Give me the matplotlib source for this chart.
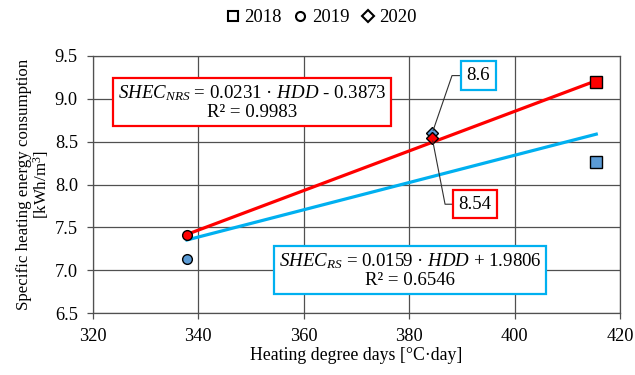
import matplotlib
matplotlib.use("Agg")
import matplotlib.pyplot as plt
from matplotlib.lines import Line2D
import numpy as np

plt.rcParams['font.family'] = ['Liberation Serif', 'DejaVu Serif']
plt.rcParams['mathtext.fontset'] = 'custom'
plt.rcParams['mathtext.rm'] = 'Liberation Serif'
plt.rcParams['mathtext.it'] = 'Liberation Serif:italic'

years = ['2018', '2019', '2020']
markers = ['s', 'o', 'D']
hdd = [415.5, 337.9, 384.4]
shec_nrs = [9.19, 7.41, 8.54]
shec_rs = [8.26, 7.13, 8.60]
nrs_coef = (0.0231, -0.3873)
rs_coef = (0.0159, 1.9806)

RED = '#FF0000'
BLUE = '#00B0F0'
RS_FILL = '#5B9BD5'
GRID = '#505050'

fig = plt.figure(figsize=(6.35, 3.75), dpi=100)
ax = fig.add_axes([0.1457, 0.165, 0.8307, 0.686])

xr = np.array([min(hdd), max(hdd)])
ax.plot(xr, rs_coef[0] * xr + rs_coef[1], color=BLUE, lw=2.3, zorder=3)
ax.plot(xr, nrs_coef[0] * xr + nrs_coef[1], color=RED, lw=2.3, zorder=3)

for x, yr, yn, m in zip(hdd, shec_rs, shec_nrs, markers):
    ms = 8 if m == 's' else (7 if m == 'o' else 6.5)
    ax.plot([x], [yr], marker=m, ms=ms, mfc=RS_FILL, mec='black', mew=1.0, ls='none', zorder=4)
    ax.plot([x], [yn], marker=m, ms=ms, mfc=RED, mec='black', mew=1.0, ls='none', zorder=5)

ax.set_xlim(320, 420)
ax.set_ylim(6.5, 9.5)
ax.set_xticks(np.arange(320, 421, 20))
ax.set_yticks(np.arange(6.5, 9.51, 0.5))
ax.yaxis.set_major_formatter(matplotlib.ticker.FormatStrFormatter('%.1f'))
ax.grid(True, color=GRID, lw=0.9, zorder=0.5)
ax.set_axisbelow(True)
for s in ax.spines.values():
    s.set_color(GRID)
    s.set_linewidth(0.9)
ax.tick_params(axis='both', labelsize=13.2, length=4, color=GRID, width=0.9, pad=6.5)
ax.set_xlabel('Heating degree days [°C·day]', fontsize=12.8, labelpad=2)
ax.set_ylabel('Specific heating energy consumption\n[kWh/m$^3$]', fontsize=12.2, labelpad=3, linespacing=0.95)

# equation boxes
ax.text(350.3, 8.96, '$\\mathit{SHEC}_{\\mathit{NRS}}$ = 0.0231 · $\\mathit{HDD}$ - 0.3873\nR² = 0.9983',
        ha='center', va='center', fontsize=13.6, linespacing=1.05, zorder=6,
        bbox=dict(boxstyle='square,pad=0.25', fc='white', ec=RED, lw=1.6))
ax.text(380.2, 7.0, '$\\mathit{SHEC}_{\\mathit{RS}}$ = 0.0159 · $\\mathit{HDD}$ + 1.9806\nR² = 0.6546',
        ha='center', va='center', fontsize=13.6, linespacing=1.05, zorder=6,
        bbox=dict(boxstyle='square,pad=0.25', fc='white', ec=BLUE, lw=1.6))

# value labels
ax.annotate(f'{shec_rs[2]:g}', xy=(hdd[2], shec_rs[2]), xytext=(393.1, 9.27),
            ha='center', va='center', fontsize=13.6, zorder=6,
            bbox=dict(boxstyle='square,pad=0.3', fc='white', ec=BLUE, lw=1.6),
            arrowprops=dict(arrowstyle='-', color='#303030', lw=0.8, shrinkA=0, shrinkB=2,
                            relpos=(0, 0.5), connectionstyle='angle,angleA=0,angleB=71,rad=0'))
ax.annotate(f'{shec_nrs[2]:g}', xy=(hdd[2], shec_nrs[2]), xytext=(392.5, 7.77),
            ha='center', va='center', fontsize=13.6, zorder=6,
            bbox=dict(boxstyle='square,pad=0.3', fc='white', ec=RED, lw=1.6),
            arrowprops=dict(arrowstyle='-', color='#303030', lw=0.8, shrinkA=0, shrinkB=2,
                            relpos=(0, 0.5), connectionstyle='angle,angleA=0,angleB=-79,rad=0'))

handles = [Line2D([], [], marker=m, ls='none', mfc='white', mec='black', mew=1.5,
                  ms=(7 if m == 's' else 6.5 if m == 'o' else 6)) for m in markers]
fig.legend(handles, years, loc='upper center', bbox_to_anchor=(0.507, 1.02), ncol=3,
           frameon=False, fontsize=13.5, handlelength=0.6, handletextpad=0.3, columnspacing=0.7)

fig.savefig('out.png', dpi=100)
